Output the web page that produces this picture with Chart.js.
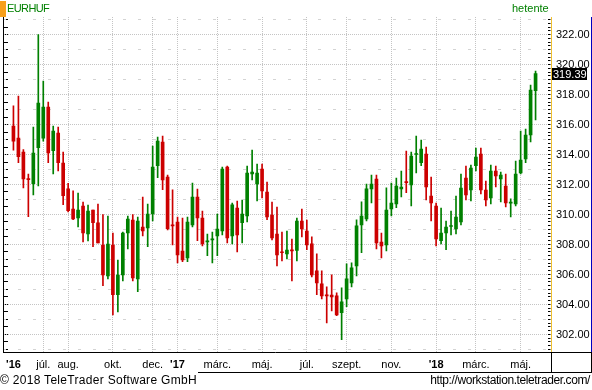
<!DOCTYPE html>
<html>
<head>
<meta charset="utf-8">
<script src="https://cdn.jsdelivr.net/npm/chart.js@4"></script>
<style>
  body { margin: 0; background: #fff; }
  #wrap { position: relative; width: 592px; height: 390px; font-family: "Liberation Sans", Arial, sans-serif; }
  canvas { position: absolute; left: 0; top: 0; }
  .txt { position: absolute; white-space: nowrap; }
  .ln { position: absolute; background: #000; }
  #flag { position: absolute; left: 0; top: 1px; width: 6px; height: 16px; background: #f7a01c; }
  #sym { left: 7px; top: 2px; font-size: 11px; line-height: 13px; letter-spacing: -0.6px; color: #008000; }
  #period { left: 512px; top: 2px; font-size: 11px; line-height: 13px; color: #008000; }
  #copy { left: 0; top: 373px; font-size: 12px; line-height: 14px; letter-spacing: 0.3px; color: #000; }
  #url { right: 2px; top: 373px; font-size: 12px; line-height: 14px; letter-spacing: -0.4px; color: #000; }
</style>
</head>
<body>
<div id="wrap">
  <canvas id="chart" width="592" height="390"></canvas>
  <div id="flag"></div>
  <!-- frame pieces below the price axis -->
  <div class="ln" style="left:547px; top:352px; width:45px; height:1px;"></div>
  <div class="ln" style="left:551px; top:352px; width:1px; height:21px;"></div>
  <div class="ln" style="left:591px; top:352px; width:1px; height:21px;"></div>
  <div class="ln" style="left:198px; top:372px; width:394px; height:1px;"></div>
  <div class="txt" id="sym">EURHUF</div>
  <div class="txt" id="period">hetente</div>
  <div class="txt" id="copy">© 2018 TeleTrader Software GmbH</div>
  <div class="txt" id="url">http://workstation.teletrader.com/</div>
</div>
<script>
// EURHUF weekly candles, week of 2016-05-16 .. week of 2018-05-21
const opens = [315.89, 315.09, 314.16, 312.38, 312.05, 314.45, 315.09, 317.16, 314.25, 315.42,
  313.42, 311.71, 310.36, 309.78, 310.56, 308.71, 310.29, 309.45, 307.96, 305.91,
  307.96, 304.65, 305.98, 308.78, 309.62, 305.71, 309.16, 309.11, 310.04, 313.25,
  314.82, 312.49, 309.30, 309.49, 307.56, 307.11, 309.31, 311.16, 309.76, 308.18,
  308.31, 308.58, 308.91, 313.16, 308.58, 310.42, 309.45, 309.91, 312.71, 312.04,
  313.02, 311.49, 309.96, 308.69, 307.49, 307.38, 307.62, 307.60, 309.56, 308.89,
  308.04, 306.24, 305.38, 304.62, 304.62, 304.58, 303.45, 304.38, 305.44, 306.58,
  309.31, 309.71, 311.71, 312.36, 308.16, 307.98, 310.38, 310.71, 311.71, 312.18,
  311.98, 314.00, 313.45, 314.02, 311.22, 310.56, 308.25, 308.78, 309.20, 309.04,
  309.51, 312.42, 311.64, 313.25, 314.02, 311.62, 311.11, 312.89, 312.38, 311.89,
  310.76, 310.71, 312.78, 313.71, 315.31, 318.25];
const highs = [317.25, 317.89, 314.33, 312.69, 315.82, 322.00, 318.89, 317.49, 315.89, 315.82,
  314.16, 312.07, 311.58, 311.42, 310.82, 310.62, 310.29, 310.69, 310.00, 309.89,
  308.76, 306.96, 308.82, 309.89, 310.00, 309.82, 311.16, 310.69, 314.56, 315.16,
  315.22, 312.62, 311.65, 309.82, 309.76, 309.82, 312.09, 311.69, 310.22, 308.69,
  308.82, 310.02, 313.16, 313.22, 310.76, 310.89, 310.96, 313.22, 314.29, 313.36,
  313.36, 312.16, 310.82, 310.49, 308.82, 308.89, 308.36, 309.76, 310.36, 309.62,
  308.51, 307.38, 306.24, 305.18, 305.98, 304.78, 305.11, 306.71, 306.78, 309.65,
  310.84, 312.02, 312.62, 312.62, 308.76, 311.78, 312.09, 312.42, 312.89, 314.22,
  314.16, 315.22, 314.96, 314.49, 312.49, 310.76, 310.42, 309.56, 310.22, 311.22,
  312.69, 313.22, 313.29, 314.42, 314.42, 312.22, 313.29, 313.22, 312.82, 312.69,
  311.04, 313.56, 315.56, 315.69, 318.62, 319.56];
const lows = [314.29, 313.45, 311.78, 309.85, 311.31, 311.91, 314.89, 313.45, 312.71, 312.91,
  310.65, 310.18, 309.65, 309.18, 308.18, 308.24, 307.85, 308.11, 305.25, 305.71,
  303.31, 303.51, 305.58, 307.71, 305.58, 304.85, 308.58, 307.85, 309.58, 312.45,
  311.65, 308.98, 307.98, 306.78, 306.85, 306.85, 309.18, 308.25, 307.91, 307.25,
  306.78, 307.25, 308.64, 308.11, 308.04, 307.51, 308.11, 309.51, 312.31, 310.91,
  311.11, 309.65, 308.31, 306.58, 306.91, 307.04, 305.58, 306.91, 308.51, 307.65,
  305.84, 304.65, 304.38, 302.78, 303.58, 303.25, 301.65, 303.85, 305.18, 305.91,
  307.45, 309.58, 310.78, 307.71, 307.11, 307.58, 309.91, 310.45, 311.18, 311.45,
  310.58, 312.78, 313.25, 310.98, 309.58, 307.91, 308.04, 307.65, 308.64, 308.71,
  309.31, 310.98, 310.91, 312.91, 311.38, 310.58, 310.71, 311.84, 310.84, 310.51,
  309.84, 310.58, 312.71, 313.45, 314.84, 316.31];
const closes = [314.89, 313.85, 312.38, 312.33, 314.09, 317.42, 317.16, 314.11, 315.56, 313.45,
  311.25, 310.25, 309.71, 310.29, 308.78, 310.22, 309.45, 308.11, 305.98, 308.02,
  304.65, 305.96, 308.76, 309.69, 305.78, 309.56, 308.91, 310.02, 313.16, 314.89,
  312.31, 309.05, 309.24, 307.31, 306.98, 309.49, 311.16, 309.78, 308.04, 308.22,
  308.35, 309.02, 313.02, 308.44, 310.64, 308.64, 310.02, 312.76, 312.82, 312.76,
  311.58, 309.84, 308.44, 307.31, 307.45, 307.62, 307.58, 309.56, 309.04, 307.98,
  305.98, 305.44, 304.58, 304.58, 304.50, 303.31, 304.18, 305.71, 306.45, 309.25,
  309.89, 311.71, 312.02, 308.11, 307.91, 310.29, 310.76, 311.89, 311.82, 312.13,
  313.89, 314.05, 314.36, 311.84, 310.78, 308.38, 308.76, 309.16, 309.24, 309.82,
  311.76, 311.31, 313.09, 313.82, 311.64, 310.98, 312.89, 312.58, 312.62, 310.78,
  310.80, 312.69, 313.62, 315.29, 318.29, 319.39];

// month labels sit on the first weekly candle of that month
const monthIdx = [0, 6, 11, 20, 28, 33, 41, 50, 59, 67, 76, 85, 93, 102];
const monthLbl = ["'16", 'júl.', 'aug.', 'okt.', 'dec.', "'17", 'márc.', 'máj.', 'júl.', 'szept.', 'nov.', "'18", 'márc.', 'máj.'];

const yMin = 300.833, yMax = 323.167;
const xMin = -1.9, xMax = 107.4;

const UP = '#008000', DOWN = '#cc0000';
const FONT = '"Liberation Sans", Arial, sans-serif';
const candleColor = ctx => closes[ctx.dataIndex] >= opens[ctx.dataIndex] ? UP : DOWN;
// dash only the grid lines, keep the axis line itself solid
const gridDash = pattern => ctx => ctx.type === 'tick' ? pattern(ctx) : [];

const wicks = highs.map((h, i) => ({ x: i, y: [lows[i], h] }));
const bodies = opens.map((o, i) => ({ x: i, y: [o, closes[i]] }));

// black box with the last close on the price axis
const lastPrice = {
  id: 'lastPrice',
  afterDraw(chart) {
    const s = chart.scales.y;
    const v = closes[closes.length - 1];
    const py = Math.round(s.getPixelForValue(v));
    const left = Math.round(s.left);
    const ctx = chart.ctx;
    ctx.save();
    ctx.fillStyle = '#000';
    ctx.fillRect(left, py - 6, 35, 12);
    ctx.fillStyle = '#fff';
    ctx.font = '11px ' + FONT;
    ctx.textBaseline = 'middle';
    ctx.fillText(v.toFixed(2), left + 1, py + 0.5);
    ctx.restore();
  }
};

new Chart(document.getElementById('chart'), {
  type: 'bar',
  data: {
    datasets: [
      { data: wicks, backgroundColor: candleColor, barThickness: 1, grouped: false, order: 2 },
      { data: bodies, backgroundColor: candleColor, barThickness: 3, grouped: false, minBarLength: 1, order: 1 }
    ]
  },
  plugins: [lastPrice],
  options: {
    responsive: false,
    animation: false,
    layout: { padding: { top: 17, bottom: 18, left: 0, right: 0 } },
    plugins: { legend: { display: false }, tooltip: { enabled: false } },
    scales: {
      x: {
        type: 'linear', min: xMin, max: xMax, offset: false,
        afterBuildTicks: s => { s.ticks = monthIdx.map(v => ({ value: v })); },
        afterFit: s => { s.height = 20; },
        ticks: {
          autoSkip: false, maxRotation: 0, padding: 6, color: '#000',
          callback: v => monthLbl[monthIdx.indexOf(v)],
          font: ctx => ({ family: FONT, size: 11, weight: ctx.tick && String(ctx.tick.label).startsWith("'") ? 'bold' : 'normal' })
        },
        grid: {
          offset: false, drawTicks: false, lineWidth: 1,
          color: ctx => ctx.tick && ctx.tick.value === 0 ? 'rgba(0,0,0,0)' : '#c4c4c4'
        },
        border: { color: '#000', width: 1, dash: gridDash(() => [1, 1]) }
      },
      yLeft: {
        position: 'left', min: yMin, max: yMax,
        afterFit: s => { s.width = 1; },
        ticks: { display: false, stepSize: 0.5, includeBounds: false },
        grid: { drawOnChartArea: false, drawTicks: true, tickLength: -4, tickColor: '#000' },
        border: { color: '#000', width: 1 }
      },
      yTicks: {
        position: 'right', weight: 0, min: yMin, max: yMax,
        afterFit: s => { s.width = 4; },
        ticks: { display: false, stepSize: 0.25, includeBounds: false },
        grid: { drawOnChartArea: false, drawTicks: true, tickLength: 3, tickColor: '#000' },
        border: { display: false }
      },
      y: {
        position: 'right', weight: 1, min: yMin, max: yMax,
        afterFit: s => { s.width = 40; },
        ticks: {
          stepSize: 1, includeBounds: false, autoSkip: false, padding: 4.5, color: '#000',
          font: { family: FONT, size: 11 },
          callback: v => v % 2 === 0 ? v.toFixed(2) : ''
        },
        grid: {
          drawTicks: false, lineWidth: 1,
          color: ctx => ctx.tick && ctx.tick.value % 2 === 0 ? '#c4c4c4' : '#d4d4d4'
        },
        border: {
          color: '#f0c030', width: 1,
          dash: gridDash(ctx => ctx.tick.value % 2 === 0 ? [1, 1] : [3, 12]),
          dashOffset: ctx => ctx.tick && ctx.tick.value % 2 !== 0 ? 1 : 0
        }
      },
      yEdge: {
        position: 'right', weight: 2, min: yMin, max: yMax,
        afterFit: s => { s.width = 0.5; },
        ticks: { display: false },
        grid: { display: false },
        border: { color: '#0000c0', width: 1 }
      }
    }
  }
});
</script>
</body>
</html>
